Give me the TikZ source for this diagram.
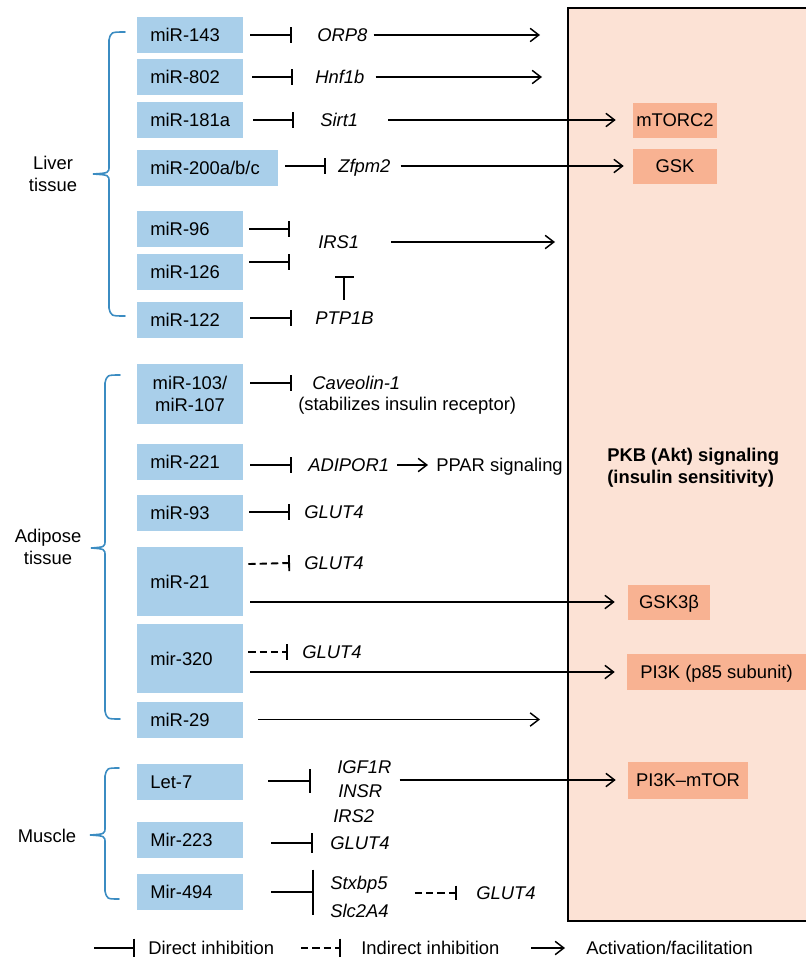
\documentclass[tikz,border=0pt]{standalone}
\usepackage{fontspec}
\setmainfont{Liberation Sans}
\usetikzlibrary{arrows.meta,calc}
\definecolor{mirblue}{RGB}{169,207,234}
\definecolor{orbox}{RGB}{248,178,146}
\definecolor{pkbfill}{RGB}{252,226,213}
\definecolor{bracec}{RGB}{59,140,194}
\newcommand\fs{\fontsize{13.8pt}{16.5pt}\selectfont}
\begin{document}
\begin{tikzpicture}[x=0.75pt,y=-0.75pt,
  every node/.style={font=\fs},
  mir/.style={fill=mirblue, inner xsep=10pt, inner ysep=0pt, text width=59.5pt, align=left, minimum height=27pt, text height=9.9pt, text depth=0pt},
  mirtwo/.style={fill=mirblue, inner sep=0pt, text width=79.5pt, align=center, minimum height=45pt},
  gene/.style={font=\fs\itshape, inner sep=0pt, anchor=west, text height=9.9pt, text depth=0pt},
  plain/.style={inner sep=0pt, anchor=west, text height=9.9pt, text depth=0pt},
  obox/.style={fill=orbox, inner sep=0pt, text height=9.9pt, text depth=0pt, minimum height=26.25pt},
  inh/.style={line width=1.4pt, -{Bar[width=12pt]}},
  dinh/.style={inh, dash pattern=on 5.5pt off 3pt},
  act/.style={line width=1.1pt, -{Straight Barb[length=6.5pt,width=10pt]}},
  brace/.style={draw=bracec, line width=1.2pt, line cap=round}
]
\useasboundingbox (0,0) rectangle (806,960);

% big PKB box
\fill[pkbfill] (568,8) rectangle (806,921);
\draw[line width=1.5pt, line join=miter] (806,8) -- (568,8) -- (568,921) -- (806,921);
\node[font=\fs\bfseries, align=left, anchor=west, inner sep=0pt] (pkb) at (607,468) {PKB (Akt) signaling\\(insulin sensitivity)};

% braces
\draw[brace] (125,32) .. controls (111,32) .. (109,40) -- (109,166) .. controls (109,173) .. (93,174) .. controls (109,175) .. (109,182) -- (109,308) .. controls (111,316) .. (125,316);
\draw[brace] (120,375) .. controls (107,375) .. (105,383) -- (105,540) .. controls (105,547) .. (91,548) .. controls (105,549) .. (105,556) -- (105,711) .. controls (107,719) .. (120,719);
\draw[brace] (119,768) .. controls (107,768) .. (105,776) -- (105,827) .. controls (105,834) .. (90,835) .. controls (105,836) .. (105,843) -- (105,891) .. controls (107,899) .. (119,899);

\node[align=center, inner sep=0pt] (liver) at (53,174) {Liver\\tissue};
\node[align=center, inner sep=0pt] (adipose) at (48,547) {Adipose\\tissue};
\node[inner sep=0pt] (muscle) at (47,836) {Muscle};

% miRNA boxes
\node[mir] (m143) at (190,35) {miR-143};
\node[mir] (m802) at (190,77) {miR-802};
\node[mir] (m181) at (190,120) {\mbox{miR-181a}};
\node[mir, text width=85.75pt] (m200) at (207.5,168) {\mbox{miR-200a/b/c}};
\node[mir] (m96) at (190,229) {miR-96};
\node[mir] (m126) at (190,271.5) {miR-126};
\node[mir] (m122) at (190,320) {miR-122};
\node[mirtwo] (m103) at (190,394) {miR-103/\\miR-107};
\node[mir] (m221) at (190,462) {miR-221};
\node[mir] (m93) at (190,512.5) {miR-93};
\node[mir, minimum height=51.75pt] (m21) at (190,581.5) {miR-21};
\node[mir, minimum height=51.75pt] (m320) at (190,658.5) {mir-320};
\node[mir] (m29) at (190,719.5) {miR-29};
\node[mir] (let7) at (190,782) {Let-7};
\node[mir] (m223) at (190,840) {Mir-223};
\node[mir] (m494) at (190,891.5) {Mir-494};

% orange boxes
\node[obox, minimum width=63pt] (mtorc2) at (675,120) {mTORC2};
\node[obox, minimum width=63pt] (gsk) at (675,166) {GSK};
\node[obox, minimum width=61.5pt] (gsk3b) at (669,602) {GSK3β};
\node[obox, minimum width=134.25pt, minimum height=27pt] (pi3k) at (716.5,672) {PI3K (p85 subunit)};
\node[obox, minimum width=90pt, minimum height=27.75pt] (pimtor) at (688,780) {PI3K–mTOR};

% gene labels
\node[gene] (orp8) at (317,35) {ORP8};
\node[gene] (hnf1b) at (315,77) {Hnf1b};
\node[gene] (sirt1) at (320,120) {Sirt1};
\node[gene] (zfpm2) at (338,166) {Zfpm2};
\node[gene] (irs1) at (318,242) {IRS1};
\node[gene] (ptp1b) at (315,318) {PTP1B};
\node[gene] (cav) at (312,383) {Caveolin-1};
\node[plain] (stab) at (298,404) {(stabilizes insulin receptor)};
\node[gene] (adipor) at (308,465) {ADIPOR1};
\node[plain] (ppar) at (436,465) {PPAR signaling};
\node[gene] (glut93) at (304,512) {GLUT4};
\node[gene] (glut21) at (304,563) {GLUT4};
\node[gene] (glut320) at (302,652) {GLUT4};
\node[gene] (igf1r) at (337,767) {IGF1R};
\node[gene] (insr) at (338,791) {INSR};
\node[gene] (irs2) at (333,816) {IRS2};
\node[gene] (glut223) at (330,843) {GLUT4};
\node[gene] (stxbp5) at (330,883) {Stxbp5};
\node[gene] (slc2a4) at (330,911) {Slc2A4};
\node[gene] (glut494) at (476,893) {GLUT4};

% free arrow ends
\coordinate (e1) at (540,35);
\coordinate (e2) at (542,77);
\coordinate (e3) at (555,242);
\coordinate (e4) at (540,719.5);

% liver connectors
\draw[inh] ($(m143.east)+(7,0)$) -- ($(orp8.west)+(-25,0)$);
\draw[act] ($(orp8.east)+(6,0)$) -- (e1);
\draw[inh] ($(m802.east)+(9,0)$) -- ($(hnf1b.west)+(-22,0)$);
\draw[act] ($(hnf1b.east)+(11,0)$) -- (e2);
\draw[inh] ($(m181.east)+(10,0)$) -- ($(sirt1.west)+(-26,0)$);
\draw[act] ($(sirt1.east)+(30,0)$) -- ($(mtorc2.west)+(-17,0)$);
\draw[inh] ($(m200.east)+(7,-2)$) -- ($(zfpm2.west)+(-12,0)$);
\draw[act] ($(zfpm2.east)+(10,0)$) -- ($(gsk.west)+(-9,0)$);
\draw[inh] ($(m96.east)+(6,0)$) -- ($(irs1.west)+(-28,-13)$);
\draw[inh] ($(m126.east)+(6,-9.5)$) -- ($(irs1.west)+(-28,20)$);
\draw[act] ($(irs1.east)+(32,0)$) -- (e3);
\draw[inh, -{Bar[width=14pt]}, shorten >=20.6pt] ([yshift=8.6pt]ptp1b.north) -- (ptp1b.north |- irs1.south);
\draw[inh] ($(m122.east)+(7,-2)$) -- ($(ptp1b.west)+(-23,0)$);

% adipose connectors
\draw[inh] ($(m103.east)+(7,-11)$) -- ($(cav.west)+(-20,0)$);
\draw[inh] ($(m221.east)+(7,3)$) -- ($(adipor.west)+(-16,0)$);
\draw[act] ($(adipor.east)+(8,0)$) -- ($(ppar.west)+(-8,0)$);
\draw[inh] ($(m93.east)+(6,-0.5)$) -- ($(glut93.west)+(-14,0)$);
\draw[dinh] ($(m21.east)+(5,-17.5)$) -- ($(glut21.west)+(-14,0)$);
\draw[act] ($(m21.east)+(7,20.5)$) -- ($(gsk3b.west)+(-13,0)$);
\draw[dinh] ($(m320.east)+(5,-6.5)$) -- ($(glut320.west)+(-14,0)$);
\draw[act] ($(m320.east)+(7,13.5)$) -- ($(pi3k.west)+(-12,0)$);
\draw[act] ($(m29.east)+(15,0)$) -- (e4);

% muscle connectors
\draw[inh, -{Bar[width=18pt]}] ($(let7.east)+(25,-1)$) -- ($(igf1r.west)+(-26,14)$);
\draw[act] ($(igf1r.east)+(8,13)$) -- ($(pimtor.west)+(-12,0)$);
\draw[inh, -{Bar[width=15pt]}] ($(m223.east)+(28,3)$) -- ($(glut223.west)+(-17,0)$);
\draw[inh, -{Bar[width=33.75pt]}] ($(m494.east)+(28,0.5)$) -- ($(stxbp5.west)+(-16,9)$);
\draw[dinh, -{Bar[width=11pt]}] ($(stxbp5.east)+(27,10)$) -- ($(glut494.west)+(-19,0)$);

% legend
\node[plain] (ldir) at (148,948) {Direct inhibition};
\node[plain] (lind) at (361,948) {Indirect inhibition};
\node[plain] (lact) at (586,948) {Activation/facilitation};
\draw[inh, -{Bar[width=14pt]}] ($(ldir.west)+(-54,0)$) -- ($(ldir.west)+(-13,0)$);
\draw[dinh, -{Bar[width=14pt]}] ($(lind.west)+(-60,0)$) -- ($(lind.west)+(-20,0)$);
\draw[act] ($(lact.west)+(-55,0)$) -- ($(lact.west)+(-21,0)$);
\end{tikzpicture}
\end{document}
